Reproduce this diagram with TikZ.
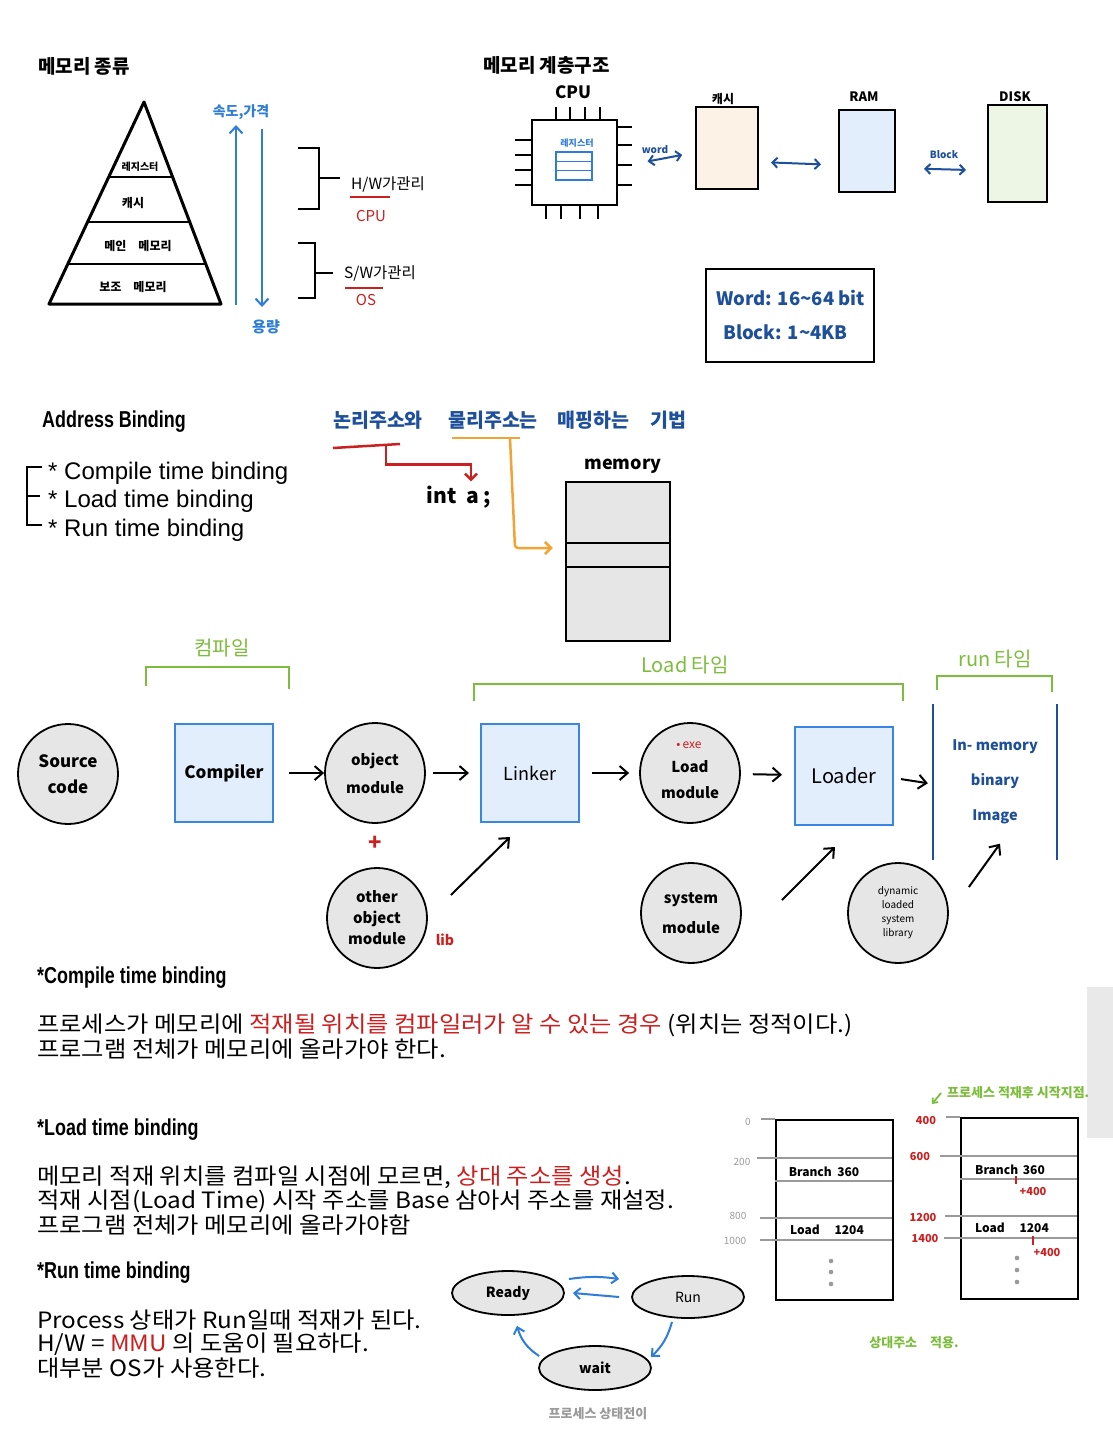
\documentclass[tikz,border=0pt]{standalone}
\usepackage{fontspec}
\setmainfont{Noto Sans CJK KR}
\newfontfamily\kr{Noto Sans CJK KR}
\newfontfamily\krw[FakeStretch=1.08]{Noto Sans CJK KR}
\newfontfamily\arl{Liberation Sans}
\newfontfamily\hd[FakeStretch=0.78]{Liberation Sans}
\usetikzlibrary{arrows.meta,shapes.geometric,calc}
\newcommand\fsz[2]{\fontsize{#1}{#2}\selectfont}
\definecolor{hblue}{HTML}{1D4F9A}
\definecolor{lblue}{HTML}{2E7DD8}
\definecolor{hgreen}{HTML}{7CBD3C}
\definecolor{hred}{HTML}{CC1F1F}
\definecolor{horange}{HTML}{F0A433}
\definecolor{gfill}{HTML}{E6E6E6}
\definecolor{bfill}{HTML}{E3EEFC}
\definecolor{bdraw}{HTML}{3985E0}
\definecolor{cfill}{HTML}{FDF2E6}
\definecolor{dfill}{HTML}{EDF5E5}
\definecolor{tgray}{HTML}{9A9A9A}
\tikzset{
  pin/.style={line width=2pt},
  dbl/.style={hblue,line width=2pt,{Straight Barb[length=5pt,width=10pt]}-{Straight Barb[length=5pt,width=10pt]}},
  arr/.style={line width=2pt,-{Straight Barb[length=8pt,width=14pt]}},
  barr/.style={lblue,line width=2pt,-{Straight Barb[length=6pt,width=11pt]}},
  gcirc/.style={circle,draw,line width=1.8pt,fill=gfill,minimum size=100pt,inner sep=0pt,align=center},
  bbox/.style={draw=bdraw,line width=2pt,fill=bfill,minimum width=98pt,minimum height=98pt,inner sep=0pt},
  gbrack/.style={hgreen,line width=2.5pt},
  gline/.style={tgray,line width=2pt},
  stell/.style={ellipse,draw,line width=1.8pt,fill=gfill,minimum width=112pt,minimum height=44pt,inner sep=0pt},
  body/.style={anchor=west,inner sep=0pt,font=\krw\fsz{22.5}{24}},
  head/.style={anchor=west,inner sep=0pt,font=\hd\bfseries\fsz{23}{26}},
}
\begin{document}
\begin{tikzpicture}[x=1pt,y=-1pt]
\useasboundingbox (0,0) rectangle (1113,1440);
\fill[white] (0,0) rectangle (1113,1440);

% ---------- memory types ----------
\node[anchor=west,inner sep=0pt,font=\kr\bfseries\fsz{19}{22}] (h1) at (38,66) {메모리 종류};
\draw[line width=3pt,line join=round] (144,102) -- (221,304) -- (49,304) -- cycle;
\draw[line width=2.5pt] (109,177) -- (173,177);
\draw[line width=2.5pt] (88,222) -- (190,222);
\draw[line width=2.5pt] (68,264) -- (206,264);
\node[font=\kr\bfseries\fsz{10}{12}] (p1) at (140,167) {레지스터};
\node[font=\kr\bfseries\fsz{12}{14}] (p2) at (133,203) {캐시};
\node[font=\kr\bfseries\fsz{12}{14}] (p3) at (138,246) {메인\quad 메모리};
\node[font=\kr\bfseries\fsz{12}{14}] (p4) at (133,287) {보조\quad 메모리};
\draw[barr,-{Straight Barb[length=7pt,width=13pt]}] (236,305) -- (236,125);
\draw[barr,-{Straight Barb[length=7pt,width=13pt]}] (262,129) -- (262,307);
\node[lblue,font=\kr\bfseries\fsz{14}{16}] (speed) at (241,112) {속도,가격};
\node[lblue,font=\kr\bfseries\fsz{15}{17}] (cap) at (266,327) {용량};
\draw[line width=1.8pt] (298,148) -- (319,148) -- (319,209) -- (298,209);
\draw[line width=1.8pt] (319,178) -- (340,178);
\node[anchor=west,inner sep=0pt,font=\kr\fsz{15.5}{17}] (hw) at (351,184) {H/W가관리};
\draw[hred,line width=2pt] (350,197) -- (390,197);
\node[hred,font=\kr\fsz{15}{16}] (cpu1) at (371,216) {CPU};
\draw[line width=1.8pt] (298,243) -- (315,243) -- (315,298) -- (298,298);
\draw[line width=1.8pt] (315,273) -- (333,273);
\node[anchor=west,inner sep=0pt,font=\kr\fsz{15.5}{17}] (sw) at (344,273) {S/W가관리};
\draw[hred,line width=2pt] (345,288) -- (383,288);
\node[hred,font=\kr\fsz{15}{16}] (os) at (366,300) {OS};

% ---------- memory hierarchy ----------
\node[anchor=west,inner sep=0pt,font=\kr\bfseries\fsz{19}{22}] (h2) at (483,65) {메모리 계층구조};
\node[font=\kr\bfseries\fsz{17}{20}] (cpul) at (573,92) {CPU};
\node[draw,line width=2.2pt,minimum size=85pt,inner sep=0pt] (chip) at (574.5,162.5) {};
\foreach \x in {556,570,585,600} \draw[pin] (\x,107) -- (\x,120);
\foreach \y in {140,155,170,185} \draw[pin] (515,\y) -- (532,\y);
\foreach \y in {127,145,165,185} \draw[pin] (617,\y) -- (632,\y);
\foreach \x in {546,561,580,598} \draw[pin] (\x,205) -- (\x,219);
\node[lblue,font=\kr\bfseries\fsz{9}{10}] (regl) at (577,143) {레지스터};
\draw[lblue,line width=1.6pt] (556,152) rectangle (592,180);
\draw[lblue,line width=1.6pt] (556,161.3) -- (592,161.3) (556,170.6) -- (592,170.6);
\node[draw,line width=2pt,fill=cfill,minimum width=62pt,minimum height=82pt,inner sep=0pt] (cache) at (727,148) {};
\node[font=\kr\bfseries\fsz{12}{14}] (cachel) at (723,99) {캐시};
\node[draw,line width=2pt,fill=bfill,minimum width=56pt,minimum height=82pt,inner sep=0pt] (ram) at (867,151) {};
\node[font=\kr\bfseries\fsz{13}{15}] (raml) at (864,97) {RAM};
\node[draw,line width=2pt,fill=dfill,minimum width=59pt,minimum height=97pt,inner sep=0pt] (disk) at (1017.5,153.5) {};
\node[font=\kr\bfseries\fsz{13}{15}] (diskl) at (1015,97) {DISK};
\node[hblue,font=\kr\bfseries\fsz{10}{12}] (wordl) at (655,150) {word};
\draw[dbl,shorten <=30pt,shorten >=13pt] ([yshift=-4.5pt]chip.east) -- ([yshift=-4.5pt]cache.west);
\draw[dbl,shorten <=12pt,shorten >=17pt] ([yshift=-14pt]cache.east) -- ([yshift=-14pt]ram.west);
\node[hblue,font=\kr\bfseries\fsz{10}{12}] (blockl) at (944,155) {Block};
\draw[dbl,shorten <=28pt,shorten >=21pt] ([yshift=-17pt]ram.east) -- ([yshift=-17pt]disk.west);
\node[draw,line width=2.5pt,minimum width=168pt,minimum height=93pt,inner sep=0pt] (wbox) at (790,315.5) {};
\node[hblue,anchor=west,inner sep=0pt,font=\kr\bfseries\fsz{18.5}{20}] (wt) at (716,298) {Word: 16\textasciitilde64 bit};
\node[hblue,anchor=west,inner sep=0pt,font=\kr\bfseries\fsz{18.5}{20}] (bt) at (723,332) {Block: 1\textasciitilde4KB};

% ---------- address binding ----------
\node[head] (ab) at (42,422) {Address Binding};
\node[anchor=west,inner sep=0pt,font=\arl\fsz{24}{26}] (l1) at (48,473) {* Compile time binding};
\node[anchor=west,inner sep=0pt,font=\arl\fsz{24}{26}] (l2) at (48,501) {* Load time binding};
\node[anchor=west,inner sep=0pt,font=\arl\fsz{24}{26}] (l3) at (48,530) {* Run time binding};
\draw[line width=1.8pt] (42,467) -- (27,467) -- (27,525) -- (42,525);
\draw[line width=1.8pt] (27,496) -- (40,496);

\node[hblue,anchor=west,inner sep=0pt,font=\kr\bfseries\fsz{19.5}{21}] (w1) at (333,420) {논리주소와};
\node[hblue,anchor=west,inner sep=0pt,font=\kr\bfseries\fsz{19.5}{21}] (w2) at (448,420) {물리주소는};
\node[hblue,anchor=west,inner sep=0pt,font=\kr\bfseries\fsz{19.5}{21}] (w3) at (557,420) {매핑하는};
\node[hblue,anchor=west,inner sep=0pt,font=\kr\bfseries\fsz{19.5}{21}] (w4) at (650,420) {기법};
\node[font=\kr\bfseries\fsz{21}{22}] (inta) at (459,497) {int\ \ a\ ;};
\node[font=\kr\bfseries\fsz{18}{20}] (meml) at (623,466) {memory};
\node[draw,line width=2.5pt,fill=gfill,minimum width=104pt,minimum height=159pt,inner sep=0pt] (mem) at (618,561.5) {};
\draw[line width=2.5pt] (566,543) -- (670,543) (566,567) -- (670,567);
\draw[hred,line width=2.5pt] (333,448) -- (400,444);
\coordinate (ru) at (386,446);
\draw[hred,line width=2.5pt,-{Straight Barb[length=6pt,width=12pt]}] (ru) |- ($(inta.north)+(12,-18)$) -- ($(inta.north)+(12,-1)$);
\draw[horange,line width=2.5pt] (452,438) -- (520,438);
\coordinate (ou) at (510,438);
\draw[horange,line width=2.5pt,-{Straight Barb[length=6pt,width=12pt]},rounded corners=3pt] (ou) -- (515,548) -- ([xshift=-12pt,yshift=13.5pt]mem.west);

% ---------- pipeline ----------
\node[hgreen,font=\kr\fsz{20}{22}] (gc) at (222,648) {컴파일};
\draw[gbrack] (146,686) -- (146,667) -- (289,667) -- (289,689);
\node[hgreen,font=\kr\fsz{20}{22}] (gl) at (685,665) {Load 타임};
\draw[gbrack] (474,701) -- (474,684) -- (903,684) -- (903,701);
\node[hgreen,font=\kr\fsz{20}{22}] (gr) at (995,659) {run 타임};
\draw[gbrack] (937,690) -- (937,676) -- (1052,676) -- (1052,692);

\node[gcirc,font=\kr\bfseries\fsz{17}{26}] (src) at (68,774) {Source\\code};
\node[bbox,font=\kr\bfseries\fsz{17}{20}] (comp) at (224,773) {Compiler};
\node[gcirc,font=\kr\bfseries\fsz{15}{28}] (obj) at (375,773) {object\\module};
\node[bbox,font=\kr\fsz{18}{20}] (link) at (530,773) {Linker};
\node[gcirc,font=\kr\bfseries\fsz{15}{26}] (lmod) at (690,773) {\\Load\\module};
\node[hred,font=\kr\fsz{12}{14}] (exe) at (689,745) {\textbullet\,exe};
\node[bbox,font=\kr\fsz{20}{22}] (ldr) at (844,776) {Loader};
\node[minimum width=124pt,minimum height=155pt,inner sep=0pt,align=center,text=hblue,font=\kr\bfseries\fsz{14.5}{35}] (img) at (995,782) {In- memory\\binary\\Image};
\draw[hblue,line width=2.5pt] (img.north west) -- (img.south west);
\draw[hblue,line width=2.5pt] (img.north east) -- (img.south east);
\draw[arr,shorten <=15pt] (comp) -- (obj);
\draw[arr,shorten <=7pt,shorten >=11pt] (obj) -- (link);
\draw[arr,shorten <=12pt,shorten >=10pt] (link) -- (lmod);
\draw[arr,shorten <=12pt,shorten >=12pt] (lmod) -- (ldr);
\draw[arr,shorten <=7pt,shorten >=5pt] ([yshift=-2pt]ldr.east) -- ([yshift=-2pt]img.west);
\node[hred,font=\kr\bfseries\fsz{22}{24}] (plus) at (375,843) {+};
\node[gcirc,font=\kr\bfseries\fsz{15}{21}] (oth) at (377,918) {other\\object\\module};
\node[hred,font=\kr\bfseries\fsz{14}{16}] (lib) at (445,940) {lib};
\node[gcirc,font=\kr\bfseries\fsz{15}{30}] (sys) at (691,913) {system\\module};
\node[gcirc,font=\kr\fsz{10}{14}] (dyn) at (898,913) {dynamic\\loaded\\system\\library};
\draw[arr] ([shift={(23,-23)}]oth.east) -- ([shift={(-20,14)}]link.south);
\draw[arr] ([shift={(40,-13)}]sys.east) -- ([shift={(-9,21)}]ldr.south);
\draw[arr] ([shift={(20,-26)}]dyn.east) -- ([shift={(5,-16)}]img.south);

% ---------- text sections ----------
\node[head] (t1) at (37,978) {*Compile time binding};
\node[body] (t1a) at (37,1025) {프로세스가 메모리에 {\color{hred}적재될 위치를 컴파일러가 알 수 있는 경우} (위치는 정적이다.)};
\node[body] (t1b) at (37,1049) {프로그램 전체가 메모리에 올라가야 한다.};
\node[head] (t2) at (37,1130) {*Load time binding};
\node[body] (t2a) at (37,1177) {메모리 적재 위치를 컴파일 시점에 모르면, {\color{hred}상대 주소를 생성}.};
\node[body] (t2b) at (37,1201) {적재 시점(Load Time) 시작 주소를 Base 삼아서 주소를 재설정.};
\node[body] (t2c) at (37,1225) {프로그램 전체가 메모리에 올라가야함};
\node[head] (t3) at (37,1273) {*Run time binding};
\node[body] (t3a) at (37,1320) {Process 상태가 Run일때 적재가 된다.};
\node[body] (t3b) at (37,1344) {H/W = {\color{hred}MMU} 의 도움이 필요하다.};
\node[body] (t3c) at (37,1368) {대부분 OS가 사용한다.};

\fill[gfill!90!white] (1087,987) rectangle (1113,1138);

% ---------- relocation memory ----------
\node[draw,line width=2.2pt,minimum width=117pt,minimum height=180pt,inner sep=0pt,anchor=north west] (ml) at (775,1119) {};
\draw[gline] (761,1119) -- (775,1119);
\draw[gline] (757,1158) -- (892,1158);
\draw[gline] (775,1181) -- (892,1181);
\draw[gline] (760,1218) -- (892,1218);
\draw[gline] (760,1240) -- (892,1240);
\node[tgray,font=\kr\fsz{10}{12}] (a0) at (748,1122) {0};
\node[tgray,font=\kr\fsz{10}{12}] (a2) at (742,1162) {200};
\node[tgray,font=\kr\fsz{10}{12}] (a8) at (738,1216) {800};
\node[tgray,font=\kr\fsz{10}{12}] (a10) at (735,1241) {1000};
\node[font=\kr\bfseries\fsz{12}{14}] (br1) at (824,1172) {Branch\ \ 360};
\node[font=\kr\bfseries\fsz{12}{14}] (ld1) at (827,1230) {Load\quad\ 1204};
\foreach \y in {1261,1272,1284} \fill[tgray] (831,\y) circle (2.3);

\node[draw,line width=2.2pt,minimum width=117pt,minimum height=181pt,inner sep=0pt,anchor=north west] (mr) at (960,1117) {};
\draw[gline] (946,1117) -- (960,1117);
\draw[gline] (940,1156) -- (1077,1156);
\draw[gline] (960,1179) -- (1077,1179);
\draw[gline] (945,1216) -- (1077,1216);
\draw[gline] (944,1238) -- (1077,1238);
\node[hred,font=\kr\bfseries\fsz{11}{12}] (b4) at (926,1120) {400};
\node[hred,font=\kr\bfseries\fsz{11}{12}] (b6) at (920,1156) {600};
\node[hred,font=\kr\bfseries\fsz{11}{12}] (b12) at (923,1217) {1200};
\node[hred,font=\kr\bfseries\fsz{11}{12}] (b14) at (925,1238) {1400};
\node[font=\kr\bfseries\fsz{12}{14}] (br2) at (1010,1170) {Branch\,\ 360};
\node[font=\kr\bfseries\fsz{12}{14}] (ld2) at (1012,1228) {Load\quad\ 1204};
\draw[hred,line width=1.6pt] (1016,1176) -- (1016,1184);
\node[hred,font=\kr\bfseries\fsz{11}{12}] (p400a) at (1033,1191) {+400};
\draw[hred,line width=1.6pt] (1033,1236) -- (1033,1245);
\node[hred,font=\kr\bfseries\fsz{11}{12}] (p400b) at (1047,1252) {+400};
\foreach \y in {1258,1270,1282} \fill[tgray] (1017,\y) circle (2.3);
\node[hgreen,anchor=west,inner sep=0pt,font=\kr\bfseries\fsz{13}{15}] (gnote) at (947,1093) {프로세스 적재후 시작지점.};
\coordinate (gn) at (941,1093);
\draw[hgreen,line width=1.8pt,-{Straight Barb[length=4pt,width=7pt]}] (gn) -- (932,1104);
\node[hgreen,font=\kr\bfseries\fsz{13}{15}] (gnote2) at (914,1343) {상대주소\quad 적용.};

% ---------- process states ----------
\node[stell,font=\kr\bfseries\fsz{14}{16}] (ready) at (508,1293) {Ready};
\node[stell,minimum height=42pt,font=\kr\fsz{14}{16}] (run) at (688,1297) {Run};
\node[stell,font=\kr\bfseries\fsz{14}{16}] (wait) at (595,1368) {wait};
\draw[barr] ([shift={(4,-14)}]ready.east) to[bend left=8] ([shift={(-12,-18)}]run.west);
\draw[barr] ([shift={(-12,0)}]run.west) -- ([shift={(8,0)}]ready.east);
\draw[barr] ([shift={(-16,3)}]run.south) to[bend left=15] ([shift={(-1,-11)}]wait.east);
\draw[barr] ([shift={(1,-12)}]wait.west) to[bend left=20] ([shift={(9,10)}]ready.south);
\node[tgray,font=\kr\bfseries\fsz{13}{15}] (cap2) at (598,1414) {프로세스 상태전이};
\end{tikzpicture}
\end{document}
